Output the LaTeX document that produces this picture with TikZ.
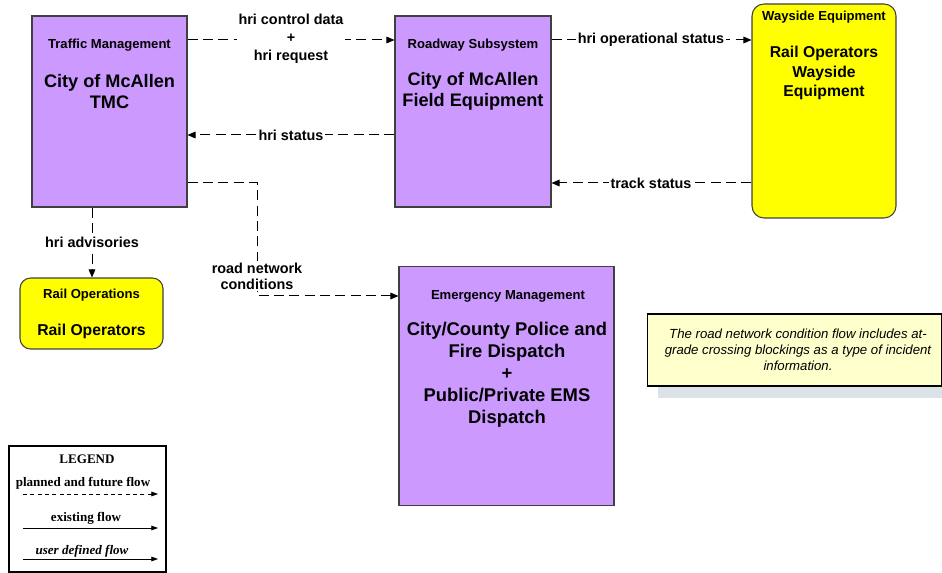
\documentclass[tikz,border=0pt]{standalone}
\usepackage{fontspec}
\setmainfont{Liberation Sans}
\newfontfamily\legfont{Liberation Serif}
\usetikzlibrary{arrows.meta,calc}
\definecolor{boxpurple}{HTML}{CC99FF}
\definecolor{boxyellow}{HTML}{FFFF00}
\definecolor{notefill}{HTML}{FFFFCC}
\definecolor{shadowc}{HTML}{DCE3E8}
\definecolor{edgec}{HTML}{404040}
\begin{document}
\begin{tikzpicture}[x=0.75pt,y=-0.75pt,
  sbox/.style={draw=edgec,line width=0.8pt,fill=boxpurple,inner sep=0pt},
  rbox/.style={draw=edgec,line width=0.8pt,fill=boxyellow,rounded corners=9pt,inner sep=0pt},
  ttl/.style={font=\bfseries\fontsize{9.8}{12}\selectfont,inner sep=0pt},
  mainx/.style={font=\bfseries\fontsize{13.6}{15.75}\selectfont,align=center,inner sep=0pt},
  lbl/.style={font=\bfseries\fontsize{10.8}{13.5}\selectfont,align=center,fill=white,inner sep=1.5pt},
  flow/.style={draw=black,line width=0.75pt,dash pattern=on 7.5pt off 4pt,-{Triangle[length=6pt,width=5pt]}},
  legtxt/.style={font=\legfont\bfseries\fontsize{9.8}{12}\selectfont,inner sep=0pt},
  legarrow/.style={draw=black,line width=0.6pt,-{Triangle[length=5pt,width=3.5pt]}},
]
\useasboundingbox (0,0) rectangle (942,573);

% boxes
\node[sbox,minimum width=116.25pt,minimum height=143.25pt] (tmc) at (109.5,111.5) {};
\node[ttl] (tmct) at (109.5,45) {Traffic Management};
\node[mainx] (tmcm) at (109.5,91.5) {City of McAllen\\TMC};

\node[sbox,minimum width=117pt,minimum height=143.25pt] (road) at (473,111.5) {};
\node[ttl] (roadt) at (473,45) {Roadway Subsystem};
\node[mainx] (roadm) at (473,91) {City of McAllen\\Field Equipment};

\node[rbox,minimum width=108pt,minimum height=160.5pt] (way) at (824,111) {};
\node[ttl] (wayt) at (824,17) {Wayside Equipment};
\node[mainx,font=\bfseries\fontsize{11.8}{14.6}\selectfont] (waym) at (824,73) {Rail Operators\\Wayside\\Equipment};

\node[rbox,rounded corners=8pt,minimum width=107.25pt,minimum height=53.25pt] (rail) at (91.5,313.5) {};
\node[ttl] (railt) at (91.5,295) {Rail Operations};
\node[mainx,font=\bfseries\fontsize{11.8}{14.6}\selectfont] (railm) at (91.5,331) {Rail Operators};

\node[sbox,minimum width=161.25pt,minimum height=179.25pt] (emer) at (506.5,386) {};
\node[ttl] (emert) at (508,296) {Emergency Management};
\node[mainx,font=\bfseries\fontsize{13.8}{16.5}\selectfont] (emerm) at (507,375) {City/County Police and\\Fire Dispatch\\+\\Public/Private EMS\\Dispatch};

% note
\fill[shadowc] (658,326) rectangle (945,398);
\node[draw=black,line width=0.8pt,fill=notefill,minimum width=220.5pt,minimum height=54pt,inner sep=0pt] (note) at (794.5,350) {};
\node[font=\itshape\fontsize{9.9}{12}\selectfont,align=center,inner sep=0pt] (notet) at (798,350) {The road network condition flow includes at-\\grade crossing blockings as a type of incident\\information.};

% connectors
\draw[flow] (tmc.east |- 0,40) -- (road.west |- 0,40);
\draw[flow] (road.east |- 0,40) -- (way.west |- 0,40);
\draw[flow] (road.west |- 0,135) -- (tmc.east |- 0,135);
\draw[flow] (way.west |- 0,183) -- (road.east |- 0,183);
\draw[flow] (92,0 |- tmc.south) -- (92,0 |- rail.north);
\coordinate (bend) at (257,296);
\draw[flow] (tmc.east |- 0,183) -| (bend) -- (bend -| emer.west);

% connector labels
\node[lbl] (l1) at (291,39) {hri control data\\+\\hri request};
\node[lbl] (l2) at (651,40) {hri operational status};
\node[lbl] (l3) at (291,135) {hri status};
\node[lbl] (l4) at (651,183) {track status};
\node[lbl] (l5) at (92,242) {hri advisories};
\node[lbl,font=\bfseries\fontsize{10.8}{12}\selectfont] (l6) at (257,276) {road network\\conditions};

% legend
\node[draw=black,line width=0.8pt,fill=white,minimum width=117.75pt,minimum height=94.5pt,inner sep=0pt] (leg) at (87.5,509) {};
\node[legtxt] (legt) at (87,459) {LEGEND};
\node[legtxt] (leg1) at (83,483) {planned and future flow};
\coordinate (p1a) at (23,494);
\coordinate (p1b) at (158,494);
\draw[legarrow,dash pattern=on 3pt off 2.5pt] (p1a) -- (p1b);
\node[legtxt] (leg2) at (86,518) {existing flow};
\coordinate (p2a) at (23,528);
\coordinate (p2b) at (158,528);
\draw[legarrow] (p2a) -- (p2b);
\node[legtxt,font=\legfont\bfseries\itshape\fontsize{9.8}{12}\selectfont] (leg3) at (82,551) {user defined flow};
\coordinate (p3a) at (23,559);
\coordinate (p3b) at (158,559);
\draw[legarrow] (p3a) -- (p3b);
\end{tikzpicture}
\end{document}
